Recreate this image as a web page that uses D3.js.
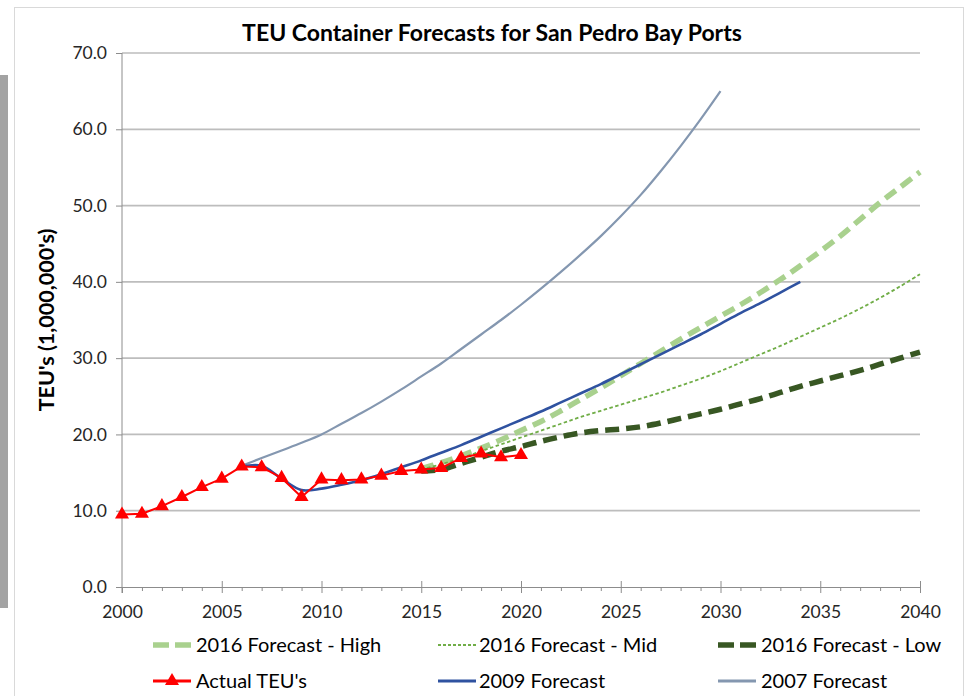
<!DOCTYPE html>
<html><head><meta charset="utf-8">
<script src="https://cdn.jsdelivr.net/npm/d3@7"></script>
<style>
body{margin:0;background:#fff}
svg{display:block;font-family:Lato,"Open Sans",sans-serif}
</style>
</head><body>
<svg id="chart" width="969" height="696"></svg>
<script>
// ---------------- data ----------------
const actualYears = [2000,2001,2002,2003,2004,2005,2006,2007,2008,2009,2010,2011,2012,2013,2014,2015,2016,2017,2018,2019,2020];
const actualTEU   = [9.5,9.6,10.6,11.8,13.1,14.2,15.8,15.7,14.3,11.8,14.1,14.0,14.1,14.6,15.2,15.4,15.6,16.9,17.5,17.0,17.3];

const f2007Years = [2006,2007,2008,2009,2010,2011,2012,2013,2014,2015,2016,2017,2018,2019,2020,2021,2022,2023,2024,2025,2026,2027,2028,2029,2030];
const f2007      = [15.9,16.9,17.9,18.9,20.0,21.4,22.8,24.3,25.9,27.6,29.3,31.2,33.1,35.0,37.0,39.1,41.3,43.6,46.0,48.6,51.4,54.5,57.8,61.3,65.0];

const f2009Years = [2006,2007,2008,2009,2010,2011,2012,2013,2014,2015,2016,2017,2018,2019,2020,2021,2022,2023,2024,2025,2026,2027,2028,2029,2030,2031,2032,2033,2034];
const f2009      = [15.8,15.9,14.2,12.7,12.9,13.4,14.0,14.8,15.7,16.6,17.6,18.6,19.7,20.8,21.9,23.0,24.2,25.4,26.6,27.9,29.2,30.5,31.8,33.1,34.5,35.9,37.2,38.6,40.0];

const f2016Years = [2015,2016,2017,2018,2019,2020,2021,2022,2023,2024,2025,2026,2027,2028,2029,2030,2031,2032,2033,2034,2035,2036,2037,2038,2039,2040];
const f2016High  = [15.5,16.3,17.2,18.2,19.3,20.5,21.7,23.1,24.6,26.1,27.7,29.3,30.9,32.5,34.0,35.5,37.0,38.6,40.3,42.1,44.0,46.0,48.2,50.4,52.4,54.4];
const f2016Mid   = [15.4,16.1,16.9,17.8,18.7,19.6,20.5,21.4,22.3,23.1,23.9,24.7,25.5,26.4,27.3,28.3,29.4,30.5,31.6,32.8,34.0,35.2,36.5,37.9,39.4,41.0];
const f2016Low   = [15.2,15.4,16.2,17.0,17.8,18.4,19.1,19.7,20.2,20.5,20.7,21.0,21.5,22.1,22.7,23.3,24.0,24.7,25.5,26.3,27.0,27.7,28.4,29.2,30.0,30.8];

const yTicks = [0,10,20,30,40,50,60,70];
const xTicks = [2000,2005,2010,2015,2020,2025,2030,2035,2040];
const xMinorTicks = [2001,2002,2003,2004,2006,2007,2008,2009,2011,2012,2013,2014,2016,2017,2018,2019,2021,2022,2023,2024,2026,2027,2028,2029,2031,2032,2033,2034,2036,2037,2038,2039];

const titleText = "TEU Container Forecasts for San Pedro Bay Ports";
const yLabelText = "TEU's (1,000,000's)";

// ---------------- series styling ----------------
const series = [
  {name:"2016 Forecast - High", years:f2016Years, values:f2016High, color:"#a9d18e", width:5.5, dash:"13,7", legendDash:"16,6", smooth:true, col:0, row:0},
  {name:"2016 Forecast - Mid",  years:f2016Years, values:f2016Mid,  color:"#70ad47", width:1.8, dash:"3.5,2.5", legendDash:"3,2", smooth:true, col:1, row:0},
  {name:"2016 Forecast - Low",  years:f2016Years, values:f2016Low,  color:"#385723", width:5.5, dash:"14,7", legendDash:"16,6", smooth:true, col:2, row:0},
  {name:"2007 Forecast", years:f2007Years, values:f2007, color:"#8497b0", width:2.2, dash:null, smooth:true, col:2, row:1},
  {name:"2009 Forecast", years:f2009Years, values:f2009, color:"#2f52a0", width:2.6, dash:null, smooth:true, col:1, row:1},
  {name:"Actual TEU's", years:actualYears, values:actualTEU, color:"#ff0000", width:2, dash:null, smooth:false, marker:true, col:0, row:1}
];

// ---------------- layout ----------------
const svg = d3.select("#chart");
const W = 969, H = 696;
const plot = {left:122, right:920, top:53, bottom:587};

svg.append("rect").attr("width",W).attr("height",H).attr("fill","#fff");
svg.append("rect").attr("x",0).attr("y",75).attr("width",8).attr("height",533).attr("fill","#a3a3a3");
svg.append("rect").attr("x",14.5).attr("y",7.5).attr("width",949).attr("height",H+10)
  .attr("fill","none").attr("stroke","#d9d9d9").attr("stroke-width",1);

const x = d3.scaleLinear().domain([2000,2040]).range([plot.left,plot.right]);
const y = d3.scaleLinear().domain([0,70]).range([plot.bottom,plot.top]);

// gridlines
svg.append("g").selectAll("line").data(yTicks.filter(d=>d>0)).join("line")
  .attr("x1",plot.left).attr("x2",plot.right)
  .attr("y1",d=>y(d)).attr("y2",d=>y(d))
  .attr("stroke","#bdbdbd").attr("stroke-width",1.7);

// y axis
const yAxis = svg.append("g").attr("transform",`translate(${plot.left},0)`)
  .call(d3.axisLeft(y).tickValues(yTicks).tickFormat(d3.format(".1f")).tickSizeInner(6).tickSizeOuter(0).tickPadding(9));
yAxis.select(".domain").attr("stroke","#8c8c8c").attr("d",`M0,${plot.top}V${plot.bottom+6}`);
yAxis.selectAll(".tick line").attr("stroke","#8c8c8c");
yAxis.selectAll("text").attr("font-size",17.5).attr("fill","#262626").attr("font-family","Lato");

// x axis minor
const xMinor = svg.append("g").attr("transform",`translate(0,${plot.bottom})`)
  .call(d3.axisBottom(x).tickValues(xMinorTicks).tickFormat("").tickSizeInner(4).tickSizeOuter(0));
xMinor.select(".domain").remove();
xMinor.selectAll(".tick line").attr("stroke","#8c8c8c");

// x axis major
const xAxis = svg.append("g").attr("transform",`translate(0,${plot.bottom})`)
  .call(d3.axisBottom(x).tickValues(xTicks).tickFormat(d3.format("d")).tickSizeInner(6).tickSizeOuter(0).tickPadding(13));
xAxis.select(".domain").attr("stroke","#8c8c8c");
xAxis.selectAll(".tick line").attr("stroke","#8c8c8c").attr("y1",d=>d===2000?0:-6).attr("y2",6);
xAxis.selectAll("text").attr("font-size",17.5).attr("fill","#262626").attr("font-family","Lato");

// lines
const gLines = svg.append("g");
series.forEach(s=>{
  const pts = s.years.map((yr,i)=>[yr,s.values[i]]);
  const line = d3.line().x(d=>x(d[0])).y(d=>y(d[1]))
    .curve(s.smooth ? d3.curveCatmullRom.alpha(0.5) : d3.curveLinear);
  gLines.append("path").datum(pts).attr("d",line)
    .attr("fill","none").attr("stroke",s.color).attr("stroke-width",s.width)
    .attr("stroke-dasharray",s.dash).attr("stroke-linejoin","round");
  if(s.marker){
    gLines.append("g").selectAll("path").data(pts).join("path")
      .attr("d",d3.symbol(d3.symbolTriangle,85))
      .attr("transform",d=>`translate(${x(d[0])},${y(d[1])})`)
      .attr("fill",s.color);
  }
});

// title
svg.append("text").attr("x",492).attr("y",41).attr("text-anchor","middle")
  .attr("font-size",23).attr("font-weight","bold").attr("fill","#000").text(titleText);

// y label
svg.append("text").attr("transform",`translate(54,${(plot.top+plot.bottom)/2}) rotate(-90)`)
  .attr("text-anchor","middle").attr("font-size",21.5).attr("font-weight","bold").attr("fill","#000").text(yLabelText);

// legend
const colSym = [153,438,718], colTxt = [196,479,761], rowY = [645,681];
const legend = svg.append("g");
series.forEach(s=>{
  const gx = colSym[s.col], gy = rowY[s.row];
  const g = legend.append("g");
  g.append("line").attr("x1",gx).attr("x2",gx+38).attr("y1",gy).attr("y2",gy)
    .attr("stroke",s.color).attr("stroke-width",Math.max(s.width,s.dash? s.width:3))
    .attr("stroke-dasharray", s.dash ? s.legendDash : null);
  if(s.marker){
    g.append("path").attr("d",d3.symbol(d3.symbolTriangle,85))
      .attr("transform",`translate(${gx+19},${gy})`).attr("fill",s.color);
  }
  g.append("text").attr("x",colTxt[s.col]).attr("y",gy).attr("dy","0.35em")
    .attr("font-size",20).attr("fill","#000").text(s.name);
});
</script>
</body></html>
